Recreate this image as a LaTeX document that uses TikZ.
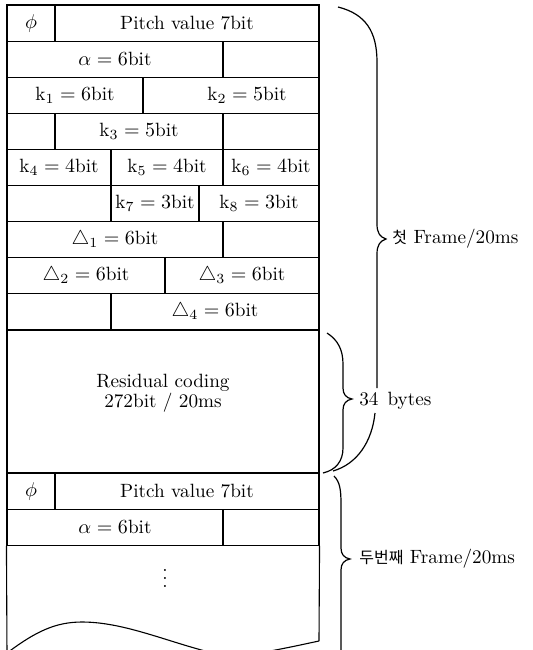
\documentclass[tikz,border=0pt]{standalone}
\usepackage{fontspec}
\newfontfamily\coreen{Noto Sans CJK KR}
\begin{document}
\begin{tikzpicture}[x=0.5pt,y=-0.5pt]
	% Styles (MODIFIABLES)
	\tikzstyle{case}=[draw,line width=0.55pt,inner sep=0pt,minimum height=18.05pt,font=\fontsize{9.6}{10}\selectfont]
	\tikzstyle{bord}=[line width=0.55pt]
	\tikzstyle{accolade}=[line width=0.6pt]
	\tikzstyle{commentaire}=[anchor=west,inner sep=0pt,font=\fontsize{9.6}{10}\selectfont]
	% Dimensions (MODIFIABLES)
	\def\Haut{36.1}
	\def\DebutA{5}
	\def\DebutB{473}
	% Dimensions calculées (NON MODIFIABLES)
	\def\LigneA{\DebutA+(0.5)*\Haut}
	\def\LigneB{\DebutA+(1.5)*\Haut}
	\def\LigneC{\DebutA+(2.5)*\Haut}
	\def\LigneD{\DebutA+(3.5)*\Haut}
	\def\LigneE{\DebutA+(4.5)*\Haut}
	\def\LigneF{\DebutA+(5.5)*\Haut}
	\def\LigneG{\DebutA+(6.5)*\Haut}
	\def\LigneH{\DebutA+(7.5)*\Haut}
	\def\LigneI{\DebutA+(8.5)*\Haut}
	\def\LigneK{\DebutB+(0.5)*\Haut}
	\def\LigneL{\DebutB+(1.5)*\Haut}
	\useasboundingbox (0,0) rectangle (532,650);
	% Noeuds : premiere trame
	\node[case,minimum width=24pt] (phiA) at (31,{\LigneA}) {$\phi$};
	\node[case,minimum width=132pt] (pitchA) at (187,{\LigneA}) {Pitch value 7bit};
	\node[case,minimum width=108pt] (alphaA) at (115,{\LigneB}) {$\alpha=6$bit};
	\node[case,minimum width=48pt] (alphaAvide) at (271,{\LigneB}) {};
	\node[case,minimum width=68pt] (kA) at (75,{\LigneC}) {k$_1=6$bit};
	\node[case,minimum width=88pt] (kB) at (231,{\LigneC}) {\hspace{16pt}k$_2=5$bit};
	\node[case,minimum width=24pt] (kCvideG) at (31,{\LigneD}) {};
	\node[case,minimum width=84pt] (kC) at (139,{\LigneD}) {k$_3=5$bit};
	\node[case,minimum width=48pt] (kCvideD) at (271,{\LigneD}) {};
	\node[case,minimum width=52pt] (kD) at (59,{\LigneE}) {k$_4=4$bit};
	\node[case,minimum width=56pt] (kE) at (167,{\LigneE}) {k$_5=4$bit};
	\node[case,minimum width=48pt] (kF) at (271,{\LigneE}) {k$_6=4$bit};
	\node[case,minimum width=52pt] (kGvide) at (59,{\LigneF}) {};
	\node[case,minimum width=44pt] (kG) at (155,{\LigneF}) {k$_7=3$bit};
	\node[case,minimum width=60pt] (kH) at (259,{\LigneF}) {k$_8=3$bit};
	\node[case,minimum width=108pt] (deltaA) at (115,{\LigneG}) {$\triangle_1=6$bit};
	\node[case,minimum width=48pt] (deltaAvide) at (271,{\LigneG}) {};
	\node[case,minimum width=79pt] (deltaB) at (86,{\LigneH}) {$\triangle_2=6$bit};
	\node[case,minimum width=77pt] (deltaC) at (242,{\LigneH}) {$\triangle_3=6$bit};
	\node[case,minimum width=52pt] (deltaDvide) at (59,{\LigneI}) {};
	\node[case,minimum width=104pt] (deltaD) at (215,{\LigneI}) {$\triangle_4=6$bit};
	\node[case,minimum width=156pt,minimum height=71.5pt] (residu) at (163,401.5) {};
	\node[case,draw=none,align=center] (residuTexte) at (163,393) {Residual coding\\272bit / 20ms};
	% Noeuds : deuxieme trame
	\node[case,minimum width=24pt] (phiB) at (31,{\LigneK}) {$\phi$};
	\node[case,minimum width=132pt] (pitchB) at (187,{\LigneK}) {Pitch value 7bit};
	\node[case,minimum width=108pt] (alphaB) at (115,{\LigneL}) {$\alpha=6$bit};
	\node[case,minimum width=48pt] (alphaBvide) at (271,{\LigneL}) {};
	\node[case,draw=none] (suite) at (165,572) {$\vdots$};
	% Bord coupe en bas
	\coordinate (basG) at (7,655);
	\coordinate (basD) at (319,641);
	\draw[bord] (alphaB.south west) -- (basG);
	\draw[bord] (alphaBvide.south east) -- (basD);
	\draw[bord] (7,653) .. controls (35,632) and (55,622) .. (82,622) .. controls (130,622) and (180,648) .. (232,657) .. controls (270,652) and (300,645) .. (basD);
	% Accolades
	\coordinate (jonctionA) at (333,471);
	\coordinate (jonctionB) at (323,473);
	\draw[accolade] (338,7) .. controls (366,14) and (377,32) .. (377,62) -- (377,224) .. controls (377,233) and (380,237) .. (386,239) .. controls (380,241) and (377,245) .. (377,254) -- (377,388)
		(375,413) .. controls (372,442) and (357,464) .. (jonctionA);
	\draw[accolade] (327,333) .. controls (338,340) and (343,350) .. (343,364) -- (343,388) .. controls (343,394) and (346,398) .. (352,399) .. controls (346,400) and (343,404) .. (343,410) -- (343,448) .. controls (343,461) and (336,470) .. (jonctionB);
	\draw[accolade] (334,476) .. controls (340,482) and (341,490) .. (341,504) -- (341,548) .. controls (341,554) and (344,558) .. (350,559) .. controls (344,560) and (341,564) .. (341,570) -- (341,656);
	% Commentaires
	\node[commentaire] (trameA) at (392,239) {{\coreen\fontsize{8}{8}\selectfont 첫}\ Frame/20ms};
	\node[commentaire] (octets) at (359,401) {34\hspace{4.5pt}bytes};
	\node[commentaire] (trameB) at (359,559) {{\coreen\fontsize{8}{8}\selectfont 두번째}\ Frame/20ms};
\end{tikzpicture}
\end{document}
